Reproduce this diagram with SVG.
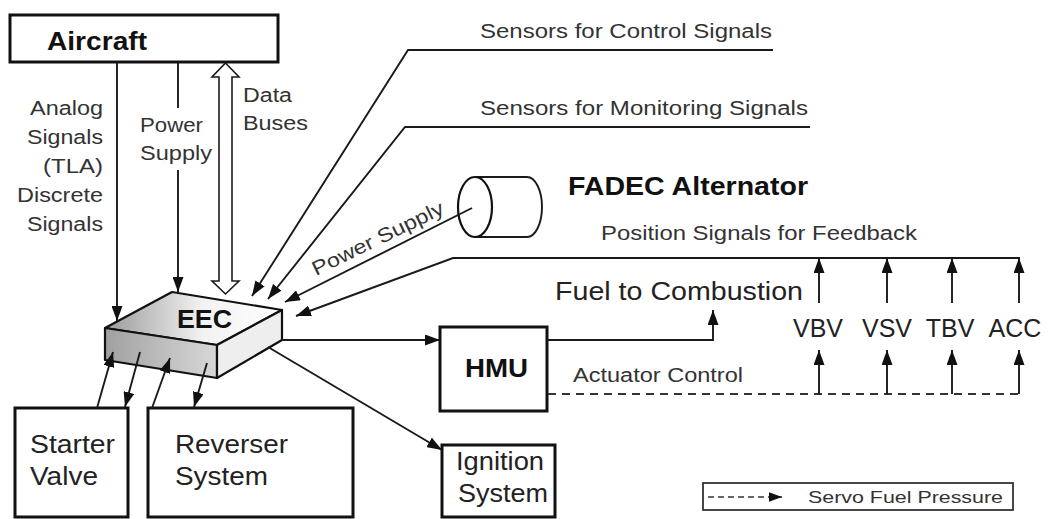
<svg xmlns="http://www.w3.org/2000/svg" width="1049" height="519" viewBox="0 0 1049 519">
<style>
  .box { fill: #fff; stroke: #111; stroke-width: 3; }
  .ln { fill: none; stroke: #1a1a1a; stroke-width: 1.9; }
  .dash { fill: none; stroke: #333; stroke-width: 1.9; stroke-dasharray: 8 6; }
  .lbl { font-family: "Liberation Sans", Arial, sans-serif; font-size: 20px; fill: #333; }
  .big { font-family: "Liberation Sans", Arial, sans-serif; font-size: 25px; fill: #222; }
  .bold { font-family: "Liberation Sans", Arial, sans-serif; font-size: 25px; font-weight: bold; fill: #111; }
  .small { font-family: "Liberation Sans", Arial, sans-serif; font-size: 16px; fill: #333; }
</style>
<defs>
  <marker id="arr" viewBox="0 0 15 11" refX="15" refY="5.5" markerWidth="15" markerHeight="11" markerUnits="userSpaceOnUse" orient="auto">
    <path d="M0,0 L15,5.5 L0,11 z" fill="#111"/>
  </marker>
  <marker id="arrs" viewBox="0 0 14 10" refX="14" refY="5" markerWidth="13" markerHeight="10" markerUnits="userSpaceOnUse" orient="auto">
    <path d="M0,0 L14,5 L0,10 z" fill="#111"/>
  </marker>
  <linearGradient id="gTop" x1="0" y1="0" x2="1" y2="0">
    <stop offset="0" stop-color="#9a9a9a"/>
    <stop offset="0.55" stop-color="#f2f2f2"/>
    <stop offset="1" stop-color="#ffffff"/>
  </linearGradient>
  <linearGradient id="gFront" x1="0" y1="0" x2="1" y2="0">
    <stop offset="0" stop-color="#a0a0a0"/>
    <stop offset="1" stop-color="#d8d8d8"/>
  </linearGradient>
</defs>

<g id="aircraft">
  <rect class="box" x="10" y="15" width="268" height="47"/>
  <text class="bold" x="47" y="50" textLength="100" lengthAdjust="spacingAndGlyphs">Aircraft</text>
</g>

<g id="labels">
  <text class="lbl" x="30" y="115" textLength="73" lengthAdjust="spacingAndGlyphs">Analog</text>
  <text class="lbl" x="27" y="144" textLength="76" lengthAdjust="spacingAndGlyphs">Signals</text>
  <text class="lbl" x="43" y="173" textLength="60" lengthAdjust="spacingAndGlyphs">(TLA)</text>
  <text class="lbl" x="17" y="202" textLength="86" lengthAdjust="spacingAndGlyphs">Discrete</text>
  <text class="lbl" x="27" y="231" textLength="76" lengthAdjust="spacingAndGlyphs">Signals</text>
  <text class="lbl" x="140" y="132" textLength="63" lengthAdjust="spacingAndGlyphs">Power</text>
  <text class="lbl" x="140" y="160" textLength="72" lengthAdjust="spacingAndGlyphs">Supply</text>
  <text class="lbl" x="243" y="102" textLength="49" lengthAdjust="spacingAndGlyphs">Data</text>
  <text class="lbl" x="243" y="130" textLength="65" lengthAdjust="spacingAndGlyphs">Buses</text>
  <text class="lbl" x="480" y="38" textLength="292" lengthAdjust="spacingAndGlyphs">Sensors for Control Signals</text>
  <text class="lbl" x="480" y="115" textLength="328" lengthAdjust="spacingAndGlyphs">Sensors for Monitoring Signals</text>
  <text class="lbl" transform="translate(316,276) rotate(-26)" textLength="144" lengthAdjust="spacingAndGlyphs">Power Supply</text>
  <text class="lbl" x="601" y="240" textLength="316" lengthAdjust="spacingAndGlyphs">Position Signals for Feedback</text>
  <text class="big" x="555" y="300" textLength="248" lengthAdjust="spacingAndGlyphs">Fuel to Combustion</text>
  <text class="lbl" x="573" y="382" textLength="170" lengthAdjust="spacingAndGlyphs">Actuator Control</text>
</g>

<g id="alternator">
  <path class="ln" d="M475,177 H527 A15,30 0 0 1 527,237 H475" stroke-width="2.2"/>
  <ellipse cx="475" cy="207" rx="17" ry="30" fill="none" stroke="#111" stroke-width="2.2"/>
  <text class="bold" x="568" y="195" textLength="240" lengthAdjust="spacingAndGlyphs">FADEC Alternator</text>
</g>

<g id="eec">
  <polygon points="105,328 172,292 282,310 217,345" fill="url(#gTop)" stroke="#111" stroke-width="2.2" stroke-linejoin="round"/>
  <polygon points="105,328 217,345 217,378 105,360" fill="url(#gFront)" stroke="#111" stroke-width="2.2" stroke-linejoin="round"/>
  <polygon points="217,345 282,310 282,340 217,378" fill="#eeeeee" stroke="#111" stroke-width="2.2" stroke-linejoin="round"/>
  <text class="bold" x="177" y="328" textLength="55" lengthAdjust="spacingAndGlyphs">EEC</text>
</g>

<g id="hmu">
  <rect class="box" x="440" y="327" width="107" height="84"/>
  <text class="bold" x="465" y="377" textLength="63" lengthAdjust="spacingAndGlyphs">HMU</text>
</g>

<g id="starter">
  <rect class="box" x="15" y="408" width="113" height="109"/>
  <text class="big" x="30" y="453" textLength="85" lengthAdjust="spacingAndGlyphs">Starter</text>
  <text class="big" x="30" y="485" textLength="68" lengthAdjust="spacingAndGlyphs">Valve</text>
</g>

<g id="reverser">
  <rect class="box" x="148" y="408" width="205" height="109"/>
  <text class="big" x="175" y="453" textLength="113" lengthAdjust="spacingAndGlyphs">Reverser</text>
  <text class="big" x="175" y="485" textLength="93" lengthAdjust="spacingAndGlyphs">System</text>
</g>

<g id="ignition">
  <rect class="box" x="442" y="445" width="113" height="72"/>
  <text class="big" x="456" y="470" textLength="88" lengthAdjust="spacingAndGlyphs">Ignition</text>
  <text class="big" x="458" y="502" textLength="90" lengthAdjust="spacingAndGlyphs">System</text>
</g>

<g id="actuators">
  <text class="big" x="818" y="337" text-anchor="middle">VBV</text>
  <text class="big" x="887" y="337" text-anchor="middle">VSV</text>
  <text class="big" x="950" y="337" text-anchor="middle">TBV</text>
  <text class="big" x="1015" y="337" text-anchor="middle">ACC</text>
</g>

<g id="legend">
  <rect x="703" y="483" width="310" height="27" fill="#fff" stroke="#333" stroke-width="1.8"/>
  <path d="M708,497 H782" fill="none" stroke="#333" stroke-width="1.6" stroke-dasharray="6 4" marker-end="url(#arrs)"/>
  <text class="small" x="808" y="503" textLength="195" lengthAdjust="spacingAndGlyphs">Servo Fuel Pressure</text>
</g>

<g id="connectors">
  <path class="ln" d="M117,62 V321" marker-end="url(#arr)"/>
  <path class="ln" d="M178,62 V108"/>
  <path class="ln" d="M178,170 V292" marker-end="url(#arr)"/>
  <path d="M225.5,63 L239,77 L232,77 L232,281 L239,281 L225.5,294 L212,281 L219,281 L219,77 L212,77 Z" fill="#fff" stroke="#1a1a1a" stroke-width="1.6" stroke-linejoin="miter"/>
  <path class="ln" d="M773,50 H408 L252,296" marker-end="url(#arr)"/>
  <path class="ln" d="M810,127 H405 L268,299" marker-end="url(#arr)"/>
  <path class="ln" d="M472,208 L285,302" marker-end="url(#arr)"/>
  <path class="ln" d="M1020,258 H453 L296,316" marker-end="url(#arr)"/>
  <path class="ln" d="M819,303 V258" marker-end="url(#arr)"/>
  <path class="ln" d="M887,303 V258" marker-end="url(#arr)"/>
  <path class="ln" d="M952,303 V258" marker-end="url(#arr)"/>
  <path class="ln" d="M1019,303 V258" marker-end="url(#arr)"/>
  <path class="ln" d="M547,340 H713 V310" marker-end="url(#arr)"/>
  <path class="dash" d="M548,394 H1019"/>
  <path class="ln" d="M819,394 V350" marker-end="url(#arr)"/>
  <path class="ln" d="M887,394 V350" marker-end="url(#arr)"/>
  <path class="ln" d="M952,394 V350" marker-end="url(#arr)"/>
  <path class="ln" d="M1019,394 V350" marker-end="url(#arr)"/>
  <path class="ln" d="M282,340 H440" marker-end="url(#arr)"/>
  <path class="ln" d="M268,347 L442,450" marker-end="url(#arr)"/>
  <path class="ln" d="M97,408 L113,352" marker-end="url(#arr)"/>
  <path class="ln" d="M140,352 L125,407" marker-end="url(#arr)"/>
  <path class="ln" d="M152,408 L170,358" marker-end="url(#arr)"/>
  <path class="ln" d="M207,363 L194,407" marker-end="url(#arr)"/>
</g>
</svg>
